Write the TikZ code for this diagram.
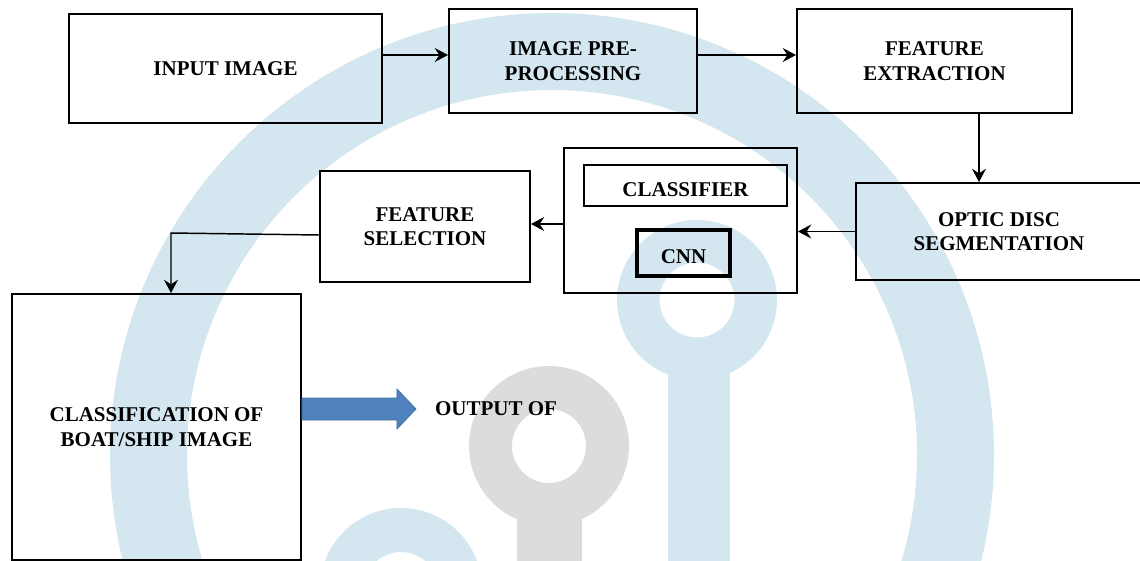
\documentclass[tikz,border=0pt]{standalone}
\usepackage{fontspec}
\setmainfont{Liberation Serif}
\usetikzlibrary{arrows.meta}

\definecolor{wmblue}{RGB}{212,231,240}
\definecolor{wmgrey}{RGB}{220,220,222}
\definecolor{arrowfill}{RGB}{79,129,189}
\definecolor{arrowline}{RGB}{65,113,156}

\begin{document}
\begin{tikzpicture}[x=0.75pt,y=-0.75pt,
    box/.style={draw,line width=1.4pt,inner sep=0pt,align=center,
      font=\bfseries\fontsize{15.75}{18.4}\selectfont},
    txt/.style={inner sep=0pt,font=\bfseries\fontsize{15.75}{18.4}\selectfont},
    conn/.style={line width=1.1pt,-{Stealth[length=10pt,width=10.5pt,inset=3.5pt]}}]
      \useasboundingbox (0,0) rectangle (1140,561);
      \begin{scope}
        \clip (0,0) rectangle (1140,561);
        \fill[wmblue,even odd rule] (552,455) circle[radius=442] (552,455) circle[radius=365];
        \fill[wmblue,even odd rule] (697,300) circle[radius=80] (697,300) circle[radius=37.5];
        \fill[wmblue] (668,360) rectangle (730,570);
        \fill[wmgrey,even odd rule] (549,446) circle[radius=80] (549,446) circle[radius=37];
        \fill[wmgrey] (517,505) rectangle (582,570);
        \fill[wmblue,even odd rule] (401,589) circle[radius=81] (401,589) circle[radius=37];
      \end{scope}
      \node[box, minimum width=234.75pt, minimum height=81.75pt] (input) at (225.5,68.5) {INPUT IMAGE};
      \node[box, minimum width=186pt, minimum height=78pt] (pre) at (573,61) {IMAGE PRE-\\PROCESSING};
      \node[box, minimum width=206.25pt, minimum height=78pt] (feat) at (934.5,61) {FEATURE\\EXTRACTION};
      \node[box, minimum width=214.5pt, minimum height=72.75pt] (optic) at (999,231.5) {OPTIC DISC\\SEGMENTATION};
      \node[box, minimum width=174.75pt, minimum height=108.75pt] (clsf) at (680.5,220.5) {};
      \node[box, minimum width=152.25pt, minimum height=30.75pt, text height=17pt] (clsname) at (685.5,185.5) {CLASSIFIER};
      \node[box, line width=3.4pt, minimum width=69.75pt, minimum height=34.5pt, text height=16.4pt] (cnn) at (683.5,253) {CNN};
      \node[box, minimum width=157.5pt, minimum height=83.25pt] (fsel) at (425,226.5) {FEATURE\\SELECTION};
      \node[box, minimum width=216.75pt, minimum height=199.5pt] (bclass) at (156.5,427) {CLASSIFICATION OF\\BOAT/SHIP IMAGE};
      \node[txt] (out) at (496,409) {OUTPUT OF};
      \coordinate (bend) at (171,233);
      \begin{scope}[conn]
        \draw (input.east |- 0,55) -- (pre.west |- 0,55);
        \draw (pre.east |- 0,55) -- (feat.west |- 0,55);
        \draw (feat.south -| 979,0) -- (optic.north -| 979,0);
        \draw (optic.west) -- (clsf.east |- optic.west);
        \draw (clsf.west |- 0,224) -- (fsel.east |- 0,224);
        \draw (fsel.west |- 0,235) -- (bend) -- (bend |- bclass.north);
      \end{scope}
      \filldraw[fill=arrowfill, draw=arrowline, line width=0.6pt]
        (bclass.east |- 0,398) -- ++(95,0) -- ++(0,-9) -- ++(19,20)
        -- ++(-19,20) -- ++(0,-9) -- ++(-95,0) -- cycle;
    \end{tikzpicture}
\end{document}
